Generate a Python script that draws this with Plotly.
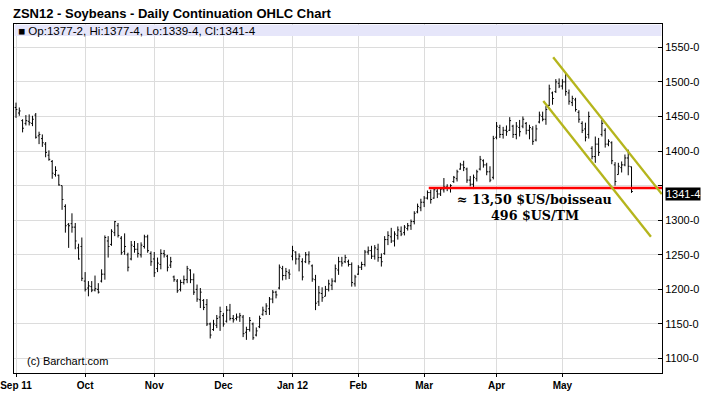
import plotly.graph_objects as go

# ---- data ----
highs = [1470,1463,1446,1452,1453,1451,1455,1428,1424,1413,1401,1387,1378,1366,1350,1323,1296,1310,1296,1266,
         1275,1225,1212,1212,1220,1209,1229,1278,1277,1287,1299,1296,1277,1281,1253,1270,1270,1267,1268,1279,
         1279,1255,1254,1246,1258,1257,1250,1247,1220,1215,1214,1220,1234,1229,1223,1207,1202,1186,1186,1152,
         1156,1163,1175,1166,1176,1179,1163,1165,1166,1163,1146,1160,1152,1145,1162,1175,1180,1189,1199,1198,
         1236,1234,1231,1229,1263,1255,1252,1245,1254,1255,1236,1221,1205,1203,1205,1214,1216,1236,1247,1247,
         1250,1243,1239,1221,1235,1240,1257,1262,1263,1264,1266,1252,1277,1284,1289,1284,1291,1291,1293,1296,
         1301,1313,1324,1331,1335,1343,1344,1347,1345,1348,1361,1352,1352,1364,1373,1383,1386,1376,1364,1366,
         1373,1393,1388,1383,1378,1422,1442,1438,1435,1437,1449,1438,1442,1445,1450,1442,1438,1436,1438,1457,
         1457,1465,1496,1486,1504,1505,1504,1513,1489,1480,1477,1459,1443,1441,1457,1407,1421,1419,1445,1433,
         1417,1414,1384,1383,1385,1395,1402,1377.5]
lows = [1448,1451,1427,1437,1437,1436,1418,1410,1406,1391,1386,1360,1363,1350,1315,1282,1260,1282,1258,1243,
        1212,1197,1190,1196,1197,1194,1210,1214,1246,1263,1277,1275,1250,1250,1226,1242,1253,1246,1246,1259,
        1253,1234,1218,1225,1229,1246,1226,1231,1211,1195,1197,1207,1209,1209,1192,1182,1173,1170,1147,1129,
        1140,1144,1140,1146,1152,1155,1152,1155,1153,1131,1127,1139,1127,1132,1144,1162,1163,1163,1180,1187,
        1200,1213,1214,1215,1242,1236,1226,1213,1238,1236,1211,1170,1176,1182,1190,1197,1199,1210,1221,1233,
        1238,1233,1204,1204,1221,1228,1233,1250,1244,1243,1240,1233,1250,1264,1267,1262,1272,1277,1278,1285,
        1286,1294,1310,1313,1319,1330,1324,1331,1332,1335,1340,1342,1340,1354,1356,1373,1371,1354,1349,1345,
        1356,1372,1376,1365,1355,1359,1417,1419,1418,1422,1429,1419,1417,1421,1433,1424,1417,1409,1414,1440,
        1443,1438,1465,1467,1484,1491,1489,1480,1467,1465,1457,1441,1426,1414,1418,1388,1383,1393,1421,1405,
        1407,1381,1350,1366,1369,1378,1365,1339.5]
opens = [1463,1455,1444,1440,1443,1440,1452,1422,1418,1410,1394,1385,1366,1365,1350,1320,1294,1295,1290,1260,
         1262,1212,1202,1204,1199,1200,1212,1222,1270,1265,1282,1292,1274,1255,1250,1244,1262,1258,1250,1262,
         1276,1252,1244,1230,1236,1252,1248,1235,1218,1212,1200,1210,1214,1228,1214,1200,1185,1184,1178,1150,
         1142,1148,1160,1162,1154,1170,1158,1158,1160,1160,1138,1142,1150,1134,1146,1164,1168,1172,1186,1196,
         1202,1230,1220,1224,1248,1254,1244,1240,1240,1250,1234,1214,1182,1194,1190,1200,1206,1212,1228,1240,
         1240,1240,1236,1208,1222,1232,1236,1254,1256,1248,1258,1246,1252,1272,1276,1270,1278,1284,1282,1288,
         1292,1298,1312,1318,1326,1332,1340,1332,1342,1338,1344,1348,1346,1356,1360,1374,1380,1374,1358,1352,
         1360,1374,1386,1380,1370,1362,1420,1434,1424,1430,1430,1436,1424,1434,1436,1440,1430,1432,1416,1442,
         1450,1446,1466,1484,1486,1498,1494,1500,1484,1470,1474,1456,1440,1432,1424,1404,1392,1410,1424,1430,
         1410,1412,1380,1366,1376,1380,1390,1377.25]
closes = [1460,1458,1433,1444,1441,1446,1420,1424,1412,1398,1388,1368,1372,1351,1330,1292,1292,1290,1270,1244,
          1216,1200,1205,1199,1201,1196,1222,1275,1262,1284,1298,1278,1253,1262,1232,1264,1258,1252,1264,1276,
          1256,1240,1224,1238,1252,1250,1232,1240,1214,1198,1210,1214,1230,1214,1196,1186,1196,1174,1150,1134,
          1150,1158,1168,1150,1170,1158,1156,1160,1162,1136,1142,1155,1130,1140,1158,1170,1176,1186,1196,1192,
          1232,1220,1226,1222,1256,1244,1248,1218,1250,1240,1215,1180,1195,1188,1200,1208,1212,1230,1240,1238,
          1246,1236,1210,1218,1232,1236,1254,1256,1248,1260,1246,1240,1272,1278,1270,1280,1286,1280,1290,1292,
          1298,1310,1320,1326,1332,1340,1330,1344,1338,1345,1348,1346,1350,1362,1370,1380,1376,1358,1352,1362,
          1370,1388,1380,1370,1358,1418,1436,1424,1430,1428,1444,1424,1436,1428,1446,1430,1434,1414,1432,1452,
          1446,1460,1490,1476,1500,1494,1500,1486,1472,1476,1460,1446,1430,1420,1450,1392,1410,1398,1440,1410,
          1414,1386,1356,1378,1380,1390,1378,1341.5]

month_start_idx = [0, 21, 42, 63, 84, 104, 124, 146, 166]
month_labels = ["Sep 11", "Oct", "Nov", "Dec", "Jan 12", "Feb", "Mar", "Apr", "May"]
price_ticks = [1100, 1150, 1200, 1250, 1300, 1350, 1400, 1450, 1500, 1550]
# the 1350 label is hidden behind the last-price box in the reference
price_tick_labels = ["1100-0", "1150-0", "1200-0", "1250-0", "1300-0", "", "1400-0", "1450-0", "1500-0", "1550-0"]

red_level = 1346.5
red_x = [125.4, 196.3]
upper_channel_x = [163.2, 196.2]
upper_channel_y = [1535.5, 1337.7]
lower_channel_x = [160.2, 192.9]
lower_channel_y = [1472.3, 1276.0]

last_close = 1341.5
last_close_label = "1341-4"
ohlc_text = "■ Op:1377-2, Hi:1377-4, Lo:1339-4, Cl:1341-4"
note_line1 = "≈ 13,50 $US/boisseau"
note_line2 = "496 $US/TM"

x_range = [-0.61, 196.26]
y_range = [1079.1, 1583.7]

idx = list(range(len(highs)))
SANS = "Liberation Sans, Arial, sans-serif"
SERIF = "DejaVu Serif, serif"

fig = go.Figure()
fig.add_trace(go.Ohlc(
    x=idx, open=opens, high=highs, low=lows, close=closes,
    increasing_line_color="black", decreasing_line_color="black",
    line_width=1, tickwidth=0.4, hoverinfo="skip", showlegend=False))

fig.add_trace(go.Scatter(x=red_x, y=[red_level, red_level], mode="lines",
                         line=dict(color="#ff0000", width=2.5), hoverinfo="skip", showlegend=False))
fig.add_trace(go.Scatter(x=upper_channel_x, y=upper_channel_y, mode="lines",
                         line=dict(color="#b5b51c", width=2.3), hoverinfo="skip", showlegend=False))
fig.add_trace(go.Scatter(x=lower_channel_x, y=lower_channel_y, mode="lines",
                         line=dict(color="#b5b51c", width=2.3), hoverinfo="skip", showlegend=False))

# lavender info band
fig.add_shape(type="rect", xref="paper", yref="paper", x0=0.001, x1=0.999, y0=0.9656, y1=0.998,
              fillcolor="#e6e6fa", line=dict(width=0), layer="above")

fig.update_layout(
    template="none",
    width=710, height=397,
    margin=dict(l=14.3, r=48, t=24, b=24.3, autoexpand=False),
    paper_bgcolor="white", plot_bgcolor="white",
    font=dict(family=SANS, color="black", size=11),
    xaxis=dict(range=x_range, tickmode="array", tickvals=month_start_idx,
               ticktext=[f"<b>{m}</b>" for m in month_labels],
               showgrid=True, gridcolor="#dcdcdc", gridwidth=1, zeroline=False, automargin=False,
               showline=True, linecolor="black", linewidth=1, mirror=True,
               ticks="outside", ticklen=3, tickcolor="black",
               tickfont=dict(family=SANS, size=10, color="black"),
               rangeslider=dict(visible=False), fixedrange=True),
    yaxis=dict(range=y_range, side="right", tickmode="array", tickvals=price_ticks,
               ticktext=price_tick_labels, showgrid=True, gridcolor="#dcdcdc", gridwidth=1,
               zeroline=False, showline=True, linecolor="black", linewidth=1, mirror=True,
               ticks="inside", ticklen=4, tickcolor="black", automargin=False,
               tickfont=dict(family=SANS, size=11, color="black"),
               fixedrange=True),
    annotations=[
        dict(text="<b>ZSN12 - Soybeans - Daily Continuation OHLC Chart</b>", xref="paper", yref="paper",
             x=0, y=1, xshift=-2.6, yshift=11, xanchor="left", yanchor="middle", showarrow=False,
             font=dict(size=13, family=SANS)),
        dict(text=ohlc_text, xref="paper", yref="paper", x=0, y=0.982, xshift=1.5,
             xanchor="left", yanchor="middle", showarrow=False,
             font=dict(size=11.6, family=SANS)),
        dict(text="(c) Barchart.com", xref="paper", yref="paper", x=0, y=0, xshift=11,
             yshift=11.7, xanchor="left", yanchor="middle", showarrow=False,
             font=dict(size=11, family=SANS)),
        dict(text=last_close_label, xref="paper", yref="y", x=1, y=last_close, xshift=3,
             yshift=-2, xanchor="left", yanchor="middle", showarrow=False, bgcolor="black",
             borderpad=0, font=dict(size=11, color="white", family=SANS)),
        dict(text=f"<b>{note_line1}</b>", x=157.6, y=red_level, yref="y", xref="x",
             yshift=-11.5, xanchor="center", yanchor="middle", showarrow=False,
             font=dict(size=12.7, family=SERIF)),
        dict(text=f"<b>{note_line2}</b>", x=157.6, y=red_level, yref="y", xref="x",
             yshift=-27.5, xanchor="center", yanchor="middle", showarrow=False,
             font=dict(size=12.7, family=SERIF)),
    ],
)

fig.write_html("out.html", config={"displayModeBar": False},
               post_script="document.body.style.margin='0px';document.body.style.overflow='hidden';")
